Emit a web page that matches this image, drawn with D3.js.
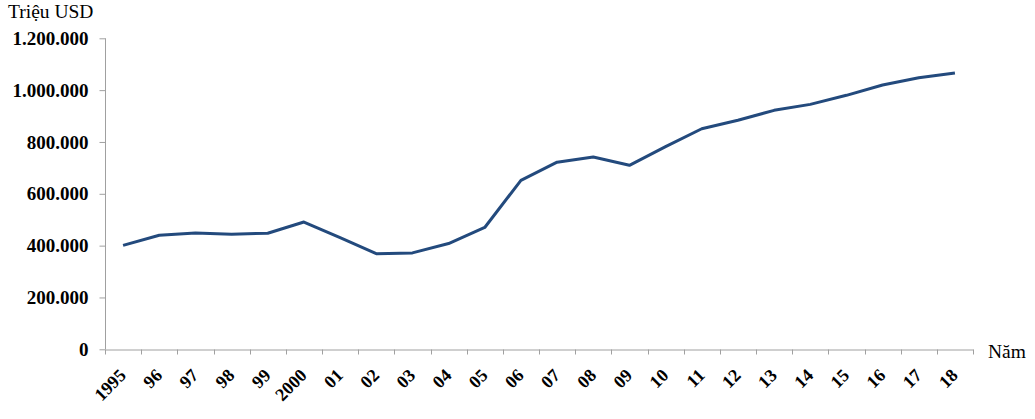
<!DOCTYPE html>
<html><head><meta charset="utf-8">
<script src="https://cdn.jsdelivr.net/npm/d3@7/dist/d3.min.js"></script>
<style>body{margin:0;background:#fff}svg{display:block}</style>
</head><body><svg id="c" width="1035" height="419"></svg>
<script>
const categories = ["1995","96","97","98","99","2000","01","02","03","04","05","06","07","08","09","10","11","12","13","14","15","16","17","18"];
const values = [401000,440000,449000,444000,448000,491000,431000,369000,372000,408000,470000,652000,722000,742000,710000,782000,851000,884000,922000,945000,980000,1020000,1048000,1066000];
const yTicks = [0,200000,400000,600000,800000,1000000,1200000];
const yTitle = "Triệu USD";
const xTitle = "Năm";

const svg = d3.select("#c");
const font = "'Liberation Serif','Times New Roman',serif";
const x = d3.scaleBand().domain(categories).range([105, 973]);
const y = d3.scaleLinear().domain([0, 1200000]).range([349.3, 38.3]);
const fmt = v => d3.format(",")(v).replace(/,/g, ".");
const axisColor = "#a0a0a0";

// y axis
const ya = svg.append("g").attr("transform", "translate(105.5,0)")
  .call(d3.axisLeft(y).tickValues(yTicks).tickFormat(fmt).tickSize(6).tickPadding(11));
ya.select(".domain").attr("stroke", axisColor).attr("d", `M-0,${y(1200000)}V${y(0)}`);
ya.selectAll(".tick line").attr("stroke", axisColor);
ya.selectAll(".tick text").attr("font-family", font).attr("font-size", "19px")
  .attr("font-weight", "bold").attr("fill", "#000");

// x axis
const xa = svg.append("g").attr("transform", "translate(0,349.5)")
  .call(d3.axisBottom(x).tickValues([]).tickSizeOuter(0));
xa.select(".domain").attr("stroke", axisColor);
const edges = categories.map((c, i) => x(c)).concat([x.range()[1]]);
xa.selectAll("line.edge").data(edges).enter().append("line").attr("class","edge")
  .attr("x1", d => Math.round(d) + 0.5).attr("x2", d => Math.round(d) + 0.5)
  .attr("y1", 0).attr("y2", 5).attr("stroke", axisColor);
xa.selectAll("text.lab").data(categories).enter().append("text").attr("class","lab")
  .attr("transform", d => `translate(${x(d) + x.bandwidth()/2 + 4},${27}) rotate(-45)`)
  .attr("text-anchor", "end").attr("font-family", font).attr("font-size", "18px")
  .attr("font-weight", "bold").attr("fill", "#000").text(d => d);

// titles
svg.append("text").attr("x", 8).attr("y", 18).attr("font-family", font)
  .attr("font-size", "19.5px").attr("fill", "#000").text(yTitle);
svg.append("text").attr("x", 988).attr("y", 358).attr("font-family", font)
  .attr("font-size", "19.5px").attr("fill", "#000").text(xTitle);

// line
const line = d3.line().x((d, i) => x(categories[i]) + x.bandwidth()/2).y(d => y(d));
svg.append("path").datum(values).attr("d", line).attr("fill", "none")
  .attr("stroke", "#234a7d").attr("stroke-width", 3).attr("stroke-linejoin", "round");
</script></body></html>
